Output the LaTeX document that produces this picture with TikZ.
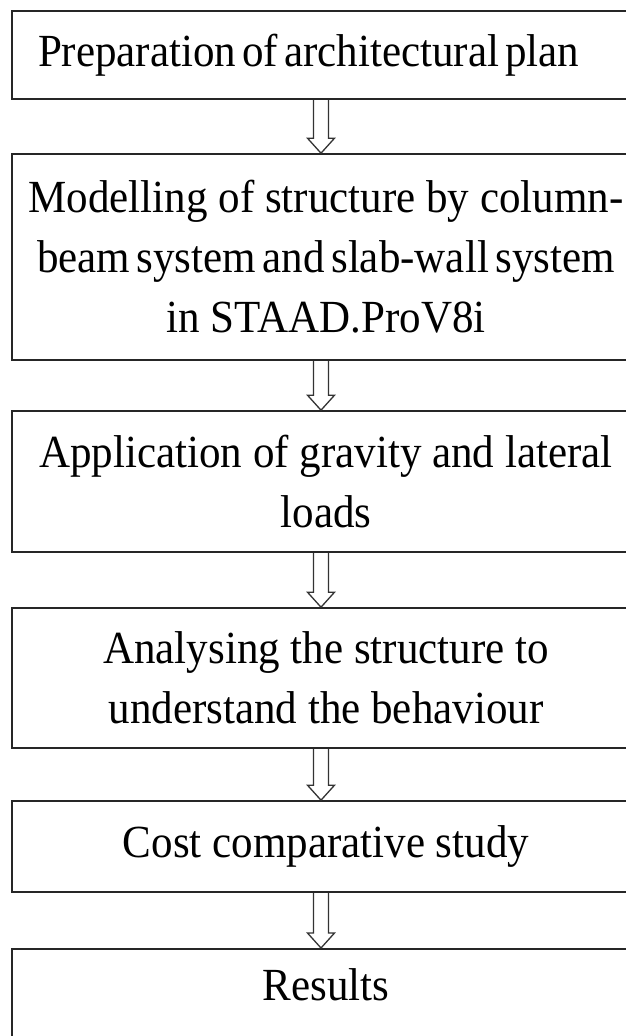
\documentclass[tikz,border=0pt]{standalone}
\usepackage{fontspec}
\setmainfont{Liberation Serif}[FakeStretch=0.935]
\usetikzlibrary{calc}
\tikzset{
  stage/.style={draw=black!85, line width=1.6pt, inner sep=0pt, minimum width=628pt,
    align=center, font=\fontsize{46}{60}\selectfont},
  flow/.style={draw=black!80, line width=1.3pt,
    to path={let \p1=(\tikztostart), \p2=(\tikztotarget) in
      (\x1-7.5pt,\y1) -- (\x1-7.5pt,\y2+15pt) -- (\x1-13.5pt,\y2+15pt) -- (\x2,\y2)
      -- (\x1+13.5pt,\y2+15pt) -- (\x1+7.5pt,\y2+15pt) -- (\x1+7.5pt,\y1)}}
}
\begin{document}
\begin{tikzpicture}[x=1pt,y=-1pt]
\useasboundingbox (0,0) rectangle (626,1036);
\node[stage,minimum height=88pt,align=left,text width=576pt] (prep) at (326,55)
  {\spaceskip=6pt Preparation of architectural plan};
\node[stage,minimum height=206pt] (model) at (326,257)
  {Modelling of structure by column-\\\spaceskip=6.5pt beam system and slab-wall system\\\spaceskip=0pt in STAAD.ProV8i};
\node[stage,minimum height=141pt] (loads) at (326,481.5) {Application of gravity and lateral\\loads};
\node[stage,minimum height=140pt] (analyse) at (326,678) {Analysing the structure to\\understand the behaviour};
\node[stage,minimum height=91pt] (cost) at (326,846.5) {Cost comparative study};
\node[stage,anchor=north,text height=52pt,text depth=46pt] (result) at (326,948) {Results};
% hollow arrows between the stages
\draw[flow] ([xshift=-5pt]prep.south) to ([xshift=-5pt]model.north);
\draw[flow] ([xshift=-5pt]model.south) to ([xshift=-5pt]loads.north);
\draw[flow] ([xshift=-5pt]loads.south) to ([xshift=-5pt]analyse.north);
\draw[flow] ([xshift=-5pt]analyse.south) to ([xshift=-5pt]cost.north);
\draw[flow] ([xshift=-5pt]cost.south) to ([xshift=-5pt]result.north);
\end{tikzpicture}
\end{document}
